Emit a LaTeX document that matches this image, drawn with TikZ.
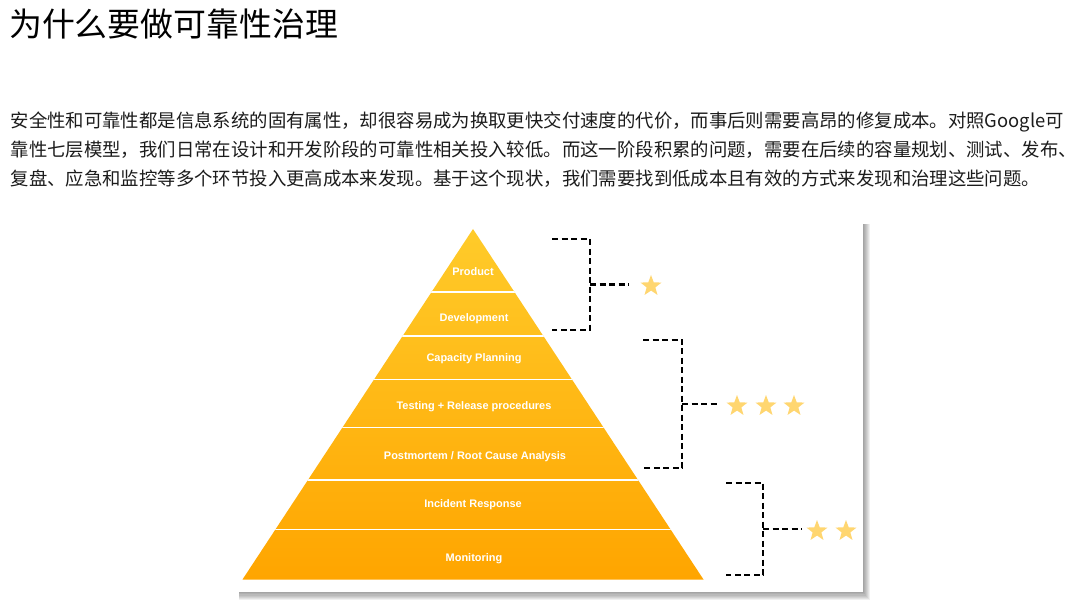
\documentclass[tikz,border=0pt]{standalone}
\usepackage{fontspec}
\setmainfont{Liberation Sans}
\newfontfamily\cjkfont{Noto Sans CJK SC}
\usetikzlibrary{shapes.geometric}

\definecolor{pyrtop}{RGB}{255,203,42}
\definecolor{pyrbottom}{RGB}{255,165,0}
\definecolor{stargold}{RGB}{255,214,112}
\definecolor{bodytext}{RGB}{28,28,28}

\begin{document}
\begin{tikzpicture}[
    x=1bp, y=-1bp,
    title/.style={anchor=west, inner sep=0pt, font=\cjkfont\fontsize{33}{36}\selectfont},
    para/.style={anchor=west, inner sep=0pt, text=bodytext, font=\cjkfont\fontsize{18.45}{22}\selectfont},
    layer/.style={inner sep=0pt, text=white, font=\bfseries\fontsize{11}{12}\selectfont},
    bracket/.style={draw=black, line width=2bp, dash pattern=on 6bp off 3.5bp},
    rating/.style={star, star points=5, star point ratio=2.4, minimum size=22bp, inner sep=0pt, fill=stargold}
]
    \useasboundingbox[fill=white] (0,0) rectangle (1080,604);

    % Heading and text
    \node[title] (heading) at (9,24.5) {为什么要做可靠性治理};
    \node[para] (line1) at (10.5,121.7) {安全性和可靠性都是信息系统的固有属性，却很容易成为换取更快交付速度的代价，而事后则需要高昂的修复成本。对照Google可};
    \node[para] (line2) at (10.5,150) {靠性七层模型，我们日常在设计和开发阶段的可靠性相关投入较低。而这一阶段积累的问题，需要在后续的容量规划、测试、发布、};
    \node[para] (line3) at (10.5,178.3) {复盘、应急和监控等多个环节投入更高成本来发现。基于这个现状，我们需要找到低成本且有效的方式来发现和治理这些问题。};

    % Card with shadow
    \foreach \i in {1,...,7}
        \fill[black, opacity=0.06] (239,224) rectangle (863+\i,592+\i*1.2);
    \fill[white] (236,221) rectangle (863,592);

    % Pyramid
    \shade[top color=pyrtop, bottom color=pyrbottom] (473,229) -- (703.5,579.5) -- (242.5,579.5) -- cycle;
    \begin{scope}
        \clip (473,229) -- (703.5,579.5) -- (242.5,579.5) -- cycle;
        \foreach \y in {292,336,379.5,427.5,480,529.5}
            \draw[white, line width=1.8bp] (230,\y) -- (720,\y);
    \end{scope}

    % Layers
    \node[layer] (product)     at (473,272)   {Product};
    \node[layer] (development) at (474,318.5) {Development};
    \node[layer] (capacity)    at (474,359)   {Capacity Planning};
    \node[layer] (testing)     at (474,406.5) {Testing + Release procedures};
    \node[layer] (postmortem)  at (475,457)   {Postmortem / Root Cause Analysis};
    \node[layer] (incident)    at (473,505)   {Incident Response};
    \node[layer] (monitoring)  at (474,559)   {Monitoring};

    % Brackets
    \coordinate (b1top) at (552,239);
    \coordinate (b1mid) at (590,284.5);
    \coordinate (b1bot) at (552,329.5);
    \coordinate (b1end) at (629,284.5);
    \draw[bracket] (b1top) -| (b1mid) |- (b1bot);
    \draw[bracket] (b1mid) -- (b1end);

    \coordinate (b2top) at (643,339.5);
    \coordinate (b2mid) at (682,403.5);
    \coordinate (b2bot) at (643,468);
    \coordinate (b2end) at (719,403.5);
    \draw[bracket] (b2top) -| (b2mid) |- (b2bot);
    \draw[bracket] (b2mid) -- (b2end);

    \coordinate (b3top) at (726,482.5);
    \coordinate (b3mid) at (763,528.5);
    \coordinate (b3bot) at (726,575);
    \coordinate (b3end) at (802,528.5);
    \draw[bracket] (b3top) -| (b3mid) |- (b3bot);
    \draw[bracket] (b3mid) -- (b3end);

    % Stars
    \node[rating] (star1)  at (651,286) {};
    \node[rating] (star2a) at (737,406) {};
    \node[rating] (star2b) at (766,406) {};
    \node[rating] (star2c) at (794,406) {};
    \node[rating] (star3a) at (817,531) {};
    \node[rating] (star3b) at (846,531) {};
\end{tikzpicture}
\end{document}
